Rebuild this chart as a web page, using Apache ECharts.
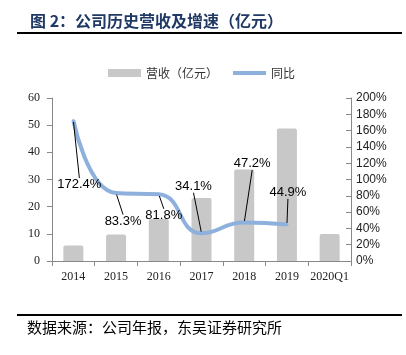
<!DOCTYPE html>
<html><head><meta charset="utf-8">
<script src="https://cdn.jsdelivr.net/npm/echarts@6/dist/echarts.min.js"></script>
<style>html,body{margin:0;padding:0;background:#fff}#c{width:406px;height:355px}</style>
</head><body><div id="c"></div>
<script>
var categories = ['2014','2015','2016','2017','2018','2019','2020Q1'];
var revenue = [5.7, 9.8, 15.5, 23.2, 33.7, 48.8, 9.9];
var growth = [172.4, 83.3, 81.8, 34.1, 47.2, 44.9, null];
var leftTicks = [0, 60, 10];
var rightTicks = [0, 200, 20];

var labelOffsets = [[6,64],[7,28],[5,21],[-8,-47],[8,-59],[1,-32]];

var chart = echarts.init(document.getElementById('c'));
chart.setOption({
  animation: false,
  title: {
    text: '图 2：公司历史营收及增速（亿元）',
    left: 25, top: 8,
    textStyle: {fontFamily: 'Noto Sans CJK SC', fontSize: 16, fontWeight: 'bold', color: '#1f3864'}
  },
  graphic: [
    {type: 'line', shape: {x1: 17, y1: 33, x2: 402, y2: 33}, style: {stroke: '#000', lineWidth: 2}},
    {type: 'line', shape: {x1: 17, y1: 315, x2: 402, y2: 315}, style: {stroke: '#000', lineWidth: 2}},
    {type: 'text', left: 27, top: 320, style: {text: '数据来源：公司年报，东吴证券研究所', font: '15px "Noto Sans CJK SC"', fill: '#000'}}
  ],
  legend: {
    top: 62, left: 103,
    itemGap: 13,
    textStyle: {fontFamily: 'Noto Sans CJK SC', fontSize: 12, color: '#333'},
    data: [
      {name: '营收（亿元）', icon: 'rect', itemStyle: {color: '#c8c8c8'}},
      {name: '同比', itemStyle: {opacity: 0}, lineStyle: {width: 4, color: '#8eb0dc'}}
    ],
    itemWidth: 33, itemHeight: 8
  },
  grid: {left: 52, right: 55, top: 98, bottom: 94},
  xAxis: {
    type: 'category', data: categories,
    axisLine: {lineStyle: {color: '#888'}},
    axisTick: {show: true, lineStyle: {color: '#888'}},
    axisLabel: {interval: 0, fontFamily: 'Liberation Serif', fontSize: 12, color: '#222', margin: 10}
  },
  yAxis: [
    {
      type: 'value', min: leftTicks[0], max: leftTicks[1], interval: leftTicks[2],
      axisLine: {show: true, lineStyle: {color: '#888'}},
      axisTick: {show: true, lineStyle: {color: '#888'}},
      splitLine: {show: false},
      axisLabel: {fontFamily: 'Liberation Serif', fontSize: 12, color: '#222', margin: 12}
    },
    {
      type: 'value', min: rightTicks[0], max: rightTicks[1], interval: rightTicks[2],
      position: 'right',
      axisLine: {show: true, lineStyle: {color: '#888'}},
      axisTick: {show: true, inside: true, lineStyle: {color: '#888'}},
      splitLine: {show: false},
      axisLabel: {fontFamily: 'Liberation Sans', fontSize: 12, color: '#222', margin: 5, formatter: '{value}%'}
    }
  ],
  series: [
    {
      name: '营收（亿元）', type: 'bar', data: revenue, barWidth: 20, yAxisIndex: 0,
      itemStyle: {color: '#c8c8c8', borderRadius: [2,2,0,0]}
    },
    {
      name: '同比', type: 'line', data: growth, yAxisIndex: 1, smooth: 0.5,
      showSymbol: true, symbol: 'circle', symbolSize: 3,
      lineStyle: {color: '#8eb0dc', width: 4},
      itemStyle: {color: '#8eb0dc'},
      label: {
        show: true, position: 'inside',
        formatter: function(p){ return p.value.toFixed(1) + '%'; },
        fontFamily: 'Liberation Sans', fontSize: 13, color: '#000'
      },
      labelLine: {show: true, lineStyle: {color: '#000', width: 1}},
      labelLayout: function(p){
        var o = labelOffsets[p.dataIndex] || [0,0];
        return {dx: o[0], dy: o[1]};
      }
    }
  ]
});
</script></body></html>
